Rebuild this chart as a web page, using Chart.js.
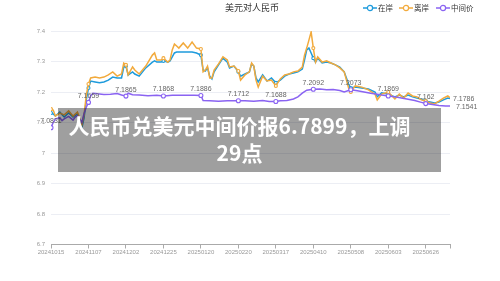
<!DOCTYPE html>
<html><head><meta charset="utf-8">
<script src="https://cdn.jsdelivr.net/npm/chart.js@4.4.1/dist/chart.umd.min.js"></script>
<style>
html,body{margin:0;padding:0;background:#fff;}
#wrap{position:relative;width:500px;height:281px;overflow:hidden;font-family:"Noto Sans CJK SC","Noto Sans",sans-serif;}
#c{position:absolute;left:0;top:0;}
#title{position:absolute;left:200px;width:104px;top:1px;text-align:center;font-size:9px;line-height:14px;color:#333;}
.lg{position:absolute;top:2px;height:12px;font-size:7.5px;line-height:12px;color:#333;white-space:nowrap;}
.lg svg{position:absolute;left:0;top:2px;}
.lg span{position:absolute;top:0;}
#banner{position:absolute;left:58px;top:108px;width:383px;height:64px;background:rgba(0,0,0,0.375);}
#bannerText{position:absolute;left:58px;top:112px;width:363px;text-align:center;color:#fff;font-weight:700;font-size:21px;line-height:27px;font-family:"Noto Sans CJK SC",sans-serif;}
</style></head>
<body><div id="wrap">
<canvas id="c" width="500" height="281"></canvas>
<div id="title">美元对人民币</div>
<div class="lg" style="left:363px;width:40px"><svg width="14" height="8"><line x1="0" y1="4" x2="14" y2="4" stroke="#1e9bdc" stroke-width="1.5"/><circle cx="7" cy="4" r="2.6" fill="#fff" stroke="#1e9bdc" stroke-width="1.2"/></svg><span style="left:15px">在岸</span></div>
<div class="lg" style="left:399px;width:40px"><svg width="14" height="8"><line x1="0" y1="4" x2="14" y2="4" stroke="#f2aa3c" stroke-width="1.5"/><circle cx="7" cy="4" r="2.6" fill="#fff" stroke="#f2aa3c" stroke-width="1.2"/></svg><span style="left:15px">离岸</span></div>
<div class="lg" style="left:436px;width:50px"><svg width="14" height="8"><line x1="0" y1="4" x2="14" y2="4" stroke="#8a63f2" stroke-width="1.5"/><circle cx="7" cy="4" r="2.6" fill="#fff" stroke="#8a63f2" stroke-width="1.2"/></svg><span style="left:15px">中间价</span></div>
<div id="banner"></div>
<div id="bannerText">人民币兑美元中间价报6.7899，上调<br>29点</div>
</div>
<script>
// x-axis tick labels (every 17 trading days)
const tickLabels = ["20241015","20241107","20241202","20241225","20250120","20250220","20250317","20250410","20250508","20250603","20250626"];
const tickStep = 17;
const lastDay = 181;

// trading-day index for onshore / offshore samples
const days = [0,1,2,4,6,8,10,12,13,14,15,16,17,18,20,22,24,26,28,30,32,33,34,35,37,38,40,43,46,47,48,50,51,53,54,55,56,57,58,60,62,64,66,68,69,70,71,72,73,74,76,78,80,81,83,85,86,88,90,91,92,93,94,96,98,100,102,104,106,108,110,112,114,115,116,117,118,119,120,121,123,125,127,129,131,133,135,136,138,141,144,147,148,150,153,156,158,160,162,164,166,168,170,172,174,176,178,180,181];

const onshore = [7.131,7.128,7.121,7.134,7.118,7.131,7.118,7.128,7.108,7.082,7.115,7.174,7.213,7.236,7.233,7.230,7.233,7.239,7.249,7.246,7.246,7.282,7.285,7.256,7.266,7.259,7.252,7.279,7.298,7.302,7.298,7.298,7.302,7.298,7.302,7.315,7.328,7.331,7.331,7.331,7.331,7.331,7.328,7.321,7.272,7.269,7.279,7.252,7.243,7.266,7.289,7.311,7.298,7.279,7.285,7.266,7.252,7.259,7.266,7.292,7.285,7.246,7.233,7.256,7.236,7.246,7.230,7.239,7.252,7.259,7.262,7.266,7.275,7.305,7.338,7.344,7.328,7.311,7.298,7.311,7.295,7.298,7.295,7.289,7.282,7.266,7.226,7.213,7.216,7.213,7.210,7.200,7.184,7.197,7.193,7.184,7.190,7.184,7.190,7.184,7.180,7.177,7.170,7.167,7.164,7.167,7.174,7.180,7.1786];

const offshore = [7.144,7.141,7.121,7.131,7.125,7.138,7.121,7.134,7.115,7.092,7.125,7.190,7.226,7.246,7.249,7.246,7.249,7.256,7.266,7.252,7.259,7.295,7.289,7.256,7.282,7.272,7.259,7.285,7.321,7.328,7.305,7.305,7.311,7.298,7.305,7.338,7.357,7.351,7.344,7.361,7.344,7.364,7.344,7.341,7.266,7.272,7.285,7.246,7.246,7.272,7.292,7.315,7.305,7.282,7.285,7.269,7.239,7.256,7.266,7.295,7.285,7.239,7.216,7.252,7.236,7.239,7.220,7.243,7.256,7.259,7.266,7.269,7.282,7.321,7.344,7.370,7.397,7.344,7.298,7.315,7.298,7.302,7.295,7.289,7.279,7.266,7.213,7.200,7.220,7.216,7.207,7.193,7.174,7.193,7.200,7.177,7.193,7.180,7.197,7.187,7.184,7.174,7.170,7.164,7.161,7.170,7.180,7.187,7.181];

// central parity samples
const midDays = [0,1,2,4,5,6,8,10,11,12,13,14,15,16,17,18,19,21,24,27,30,32,34,35,37,40,44,48,51,55,60,65,68,69,72,76,80,85,88,92,96,99,102,104,107,110,112,114,116,119,122,125,128,131,133,136,139,142,145,148,150,153,156,159,162,165,168,170,173,176,179,181];
const midValues = [7.0831,7.100,7.112,7.116,7.106,7.112,7.120,7.108,7.118,7.122,7.112,7.100,7.130,7.150,7.1659,7.188,7.196,7.194,7.192,7.193,7.195,7.190,7.1865,7.196,7.191,7.190,7.188,7.189,7.1868,7.189,7.189,7.189,7.1886,7.172,7.171,7.170,7.171,7.1712,7.171,7.170,7.172,7.169,7.1688,7.171,7.172,7.177,7.184,7.196,7.206,7.2092,7.210,7.207,7.208,7.205,7.200,7.2073,7.204,7.200,7.196,7.193,7.190,7.1869,7.184,7.180,7.176,7.172,7.166,7.162,7.159,7.156,7.154,7.1541];

const seriesNames = ["在岸","离岸","中间价"];
const colors = ["#1e9bdc","#f2aa3c","#8a63f2"];

function pts(xs, ys){ return xs.map((d,i)=>({x:d,y:ys[i]})); }
function radiusFor(size){
  return c => { const r=c.raw; return (r && r.x % tickStep === 0 && r.x <= tickStep*(tickLabels.length-1)) ? size : 0; };
}

function mkSet(i, xs, ys, order, rad){
  return {label:seriesNames[i], data:pts(xs,ys), borderColor:colors[i], backgroundColor:'#fff',
    pointBorderColor:colors[i], pointBackgroundColor:'#fff', borderWidth:1.5, pointBorderWidth:1.1,
    pointRadius:radiusFor(rad), pointHoverRadius:0, tension:0, fill:false, order:order};
}

const labelPlugin = {
  id:'valLabels',
  afterDatasetsDraw(chart){
    const ctx = chart.ctx;
    ctx.save();
    ctx.font = '7px "Liberation Sans", "DejaVu Sans", sans-serif';
    ctx.fillStyle = '#666';
    const meta = chart.getDatasetMeta(2);
    ctx.textAlign = 'center'; ctx.textBaseline = 'bottom';
    meta.data.forEach((p,i)=>{
      const d = midDays[i];
      if (d % tickStep === 0 && d <= tickStep*(tickLabels.length-1)) ctx.fillText(String(midValues[i]), p.x, p.y - 3);
    });
    ctx.textAlign = 'left'; ctx.textBaseline = 'middle';
    const m0 = chart.getDatasetMeta(0), e0 = m0.data[m0.data.length-1];
    ctx.fillText(String(onshore[onshore.length-1]), e0.x + 3, e0.y + 1);
    const e2 = meta.data[meta.data.length-1];
    ctx.fillText(String(midValues[midValues.length-1]), e2.x + 6, e2.y + 1);
    ctx.restore();
  }
};

new Chart(document.getElementById('c'), {
  type:'line',
  data:{ datasets:[ mkSet(0,days,onshore,3,1.5), mkSet(1,days,offshore,2,1.5), mkSet(2,midDays,midValues,1,2) ] },
  options:{
    responsive:false, animation:false, devicePixelRatio:1,
    layout:{padding:{left:0,right:50,top:31,bottom:0}},
    plugins:{legend:{display:false}, title:{display:false}, tooltip:{enabled:false}},
    scales:{
      x:{ type:'linear', min:0, max:lastDay,
        afterBuildTicks(s){ const t = tickLabels.map((_,i)=>({value:i*tickStep})); t.push({value:lastDay}); s.ticks = t; },
        afterFit(s){ s.height = 36.5; },
        grid:{ drawOnChartArea:false, drawTicks:true, tickLength:4, color:'#aaa', tickColor:'#aaa' },
        border:{ display:true, color:'#aaa', width:1 },
        ticks:{ autoSkip:false, maxRotation:0, padding:0, color:'#999',
          font:{size:6, family:'"Liberation Sans", sans-serif'},
          callback(v){ const k = v / tickStep; return Number.isInteger(k) && k < tickLabels.length ? tickLabels[k] : ''; } }
      },
      y:{ min:6.7, max:7.4,
        afterFit(s){ s.width = 51; },
        grid:{ color:'#eceef4', drawTicks:false, lineWidth:1 },
        border:{ display:false },
        ticks:{ stepSize:0.1, padding:6, color:'#999', font:{size:6, family:'"Liberation Sans", sans-serif'},
          callback(v){ return String(Math.round(v*10)/10); } }
      }
    }
  },
  plugins:[labelPlugin]
});
</script>
</body></html>
